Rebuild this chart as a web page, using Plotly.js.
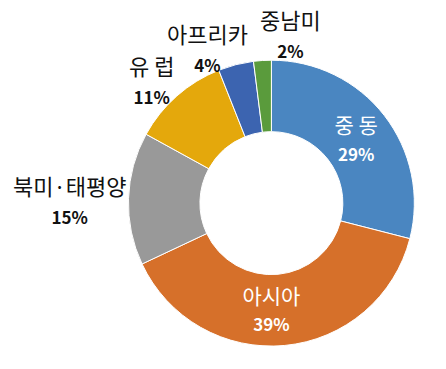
<!DOCTYPE html>
<html>
<head>
<meta charset="utf-8">
<script src="https://cdn.plot.ly/plotly-3.0.1.min.js"></script>
<style>html,body{margin:0;padding:0;background:#fff;}#chart{width:446px;height:369px;}</style>
</head>
<body>
<div id="chart"></div>
<script>
const regions = ['중 동', '아시아', '북미·태평양', '유 럽', '아프리카', '중남미'];
const shares = [29, 39, 15, 11, 4, 2];

// styling / label placement (not data)
const colors = ['#4A86C1', '#D6702A', '#999999', '#E4A80C', '#3C64B0', '#5A9B3C'];
const labelInside = [true, true, false, false, false, false];
const labelRadius = [0, 0, 1.41, 1.21, 1.18, 1.20];   // relative to pie radius
const labelAngleShift = [0, 0, -0.6, -2.5, -8, 10];    // degrees

const W = 446, H = 369;
const domX = [0.288, 0.929], domY = [0.062, 0.837];

const pctSpan = v => '<span style="font-size:17px;font-weight:bold">' + v + '%</span>';
const insideTexts = regions.map((r, i) => labelInside[i] ? r + '<br>' + pctSpan(shares[i]) : '');

const trace = {
  type: 'pie',
  values: shares,
  labels: regions,
  text: insideTexts,
  textinfo: 'text',
  hoverinfo: 'none',
  sort: false,
  direction: 'clockwise',
  rotation: 0,
  hole: 0.5,
  marker: {colors: colors, line: {color: '#ffffff', width: 1}},
  textposition: labelInside.map(b => b ? 'inside' : 'none'),
  insidetextorientation: 'horizontal',
  insidetextfont: {family: 'Noto Sans CJK KR', size: 21, color: '#ffffff'},
  domain: {x: domX, y: domY},
  showlegend: false
};

// outside labels: placed along each slice's mid-angle
const cx = (domX[0] + domX[1]) / 2 * W;
const cy = (1 - (domY[0] + domY[1]) / 2) * H;
const R = Math.min((domX[1] - domX[0]) * W, (domY[1] - domY[0]) * H) / 2;
const total = shares.reduce((a, b) => a + b, 0);
let cum = 0;
const annotations = [];
shares.forEach((v, i) => {
  const mid = (cum + v / 2) / total * 360;
  cum += v;
  if (labelInside[i]) return;
  const ang = (mid + labelAngleShift[i]) * Math.PI / 180;
  const r = R * labelRadius[i];
  const px = cx + r * Math.sin(ang);
  const py = cy - r * Math.cos(ang);
  annotations.push({
    xref: 'paper', yref: 'paper',
    x: px / W, y: 1 - py / H,
    xanchor: 'center', yanchor: 'middle',
    showarrow: false,
    text: regions[i] + '<br>' + pctSpan(v),
    font: {family: 'Noto Sans CJK KR', size: 22, color: '#111111'}
  });
});

Plotly.newPlot('chart', [trace], {
  width: W, height: H,
  margin: {l: 0, r: 0, t: 0, b: 0},
  paper_bgcolor: '#ffffff',
  showlegend: false,
  font: {family: 'Noto Sans CJK KR'},
  annotations: annotations
}, {staticPlot: true});
</script>
</body>
</html>
